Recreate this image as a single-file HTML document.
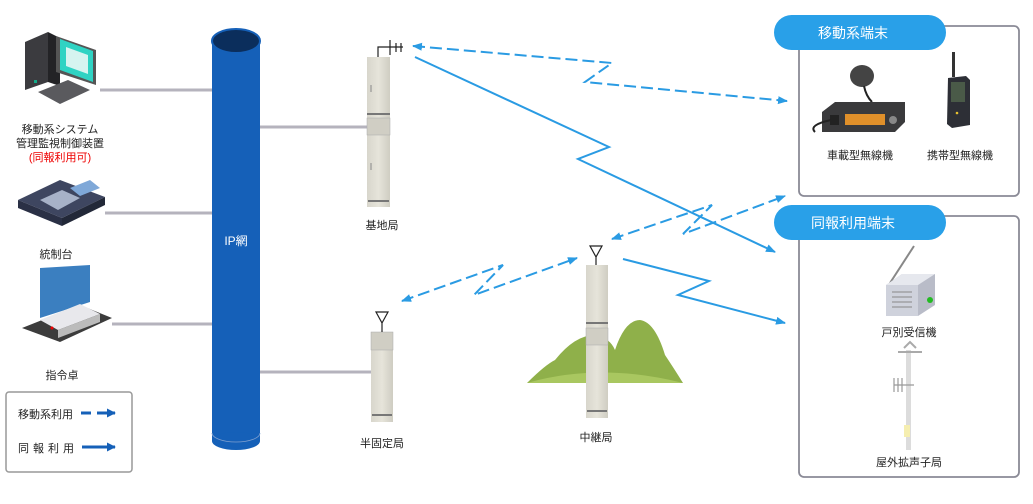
<!DOCTYPE html>
<html><head><meta charset="utf-8"><style>
html,body{margin:0;padding:0;background:#fff;}
svg{display:block;font-family:"Liberation Sans","Noto Sans CJK JP",sans-serif;}
</style></head><body>
<svg width="1033" height="504" viewBox="0 0 1033 504" xmlns="http://www.w3.org/2000/svg">
<defs>
<marker id="ab" viewBox="0 0 10 10" refX="9" refY="5" markerWidth="5" markerHeight="5" orient="auto-start-reverse"><path d="M0,1 L10,5 L0,9 z" fill="#2a9be3"/></marker>
<marker id="al" viewBox="0 0 10 10" refX="9" refY="5" markerWidth="3" markerHeight="3" orient="auto"><path d="M0,0 L10,5 L0,10 z" fill="#1560b8"/></marker>
<linearGradient id="tw" x1="0" x2="1"><stop offset="0" stop-color="#d8d6cc"/><stop offset="0.5" stop-color="#e6e4da"/><stop offset="1" stop-color="#cfcdc2"/></linearGradient>
</defs>

<g stroke="#b5b3bd" stroke-width="3">
<line x1="100" y1="90" x2="212" y2="90"/>
<line x1="105" y1="213" x2="212" y2="213"/>
<line x1="112" y1="324" x2="212" y2="324"/>
<line x1="260" y1="127" x2="368" y2="127"/>
<line x1="260" y1="372" x2="372" y2="372"/>
</g>

<rect x="212" y="41" width="48" height="400" fill="#1560b8"/>
<ellipse cx="236" cy="441" rx="24" ry="9" fill="#1560b8"/>
<path d="M212,441 A24,9 0 0 0 260,441" fill="none" stroke="#7f9fcf" stroke-width="0.8" transform="translate(0,-8)"/>
<ellipse cx="236" cy="41" rx="24" ry="12" fill="#0b2e5c" stroke="#1560b8" stroke-width="2"/>
<text x="236" y="245" fill="#fff" font-size="12" text-anchor="middle">IP網</text>

<g>
<polygon points="25,42 48,32 48,82 25,90" fill="#3b3b3f"/>
<polygon points="48,32 60,38 60,86 48,82" fill="#232326"/>
<polygon points="56,36 96,50 96,85 56,72" fill="#555"/>
<polygon points="60,39 93,51 93,82 60,70" fill="#2fd3c3"/>
<polygon points="66,47 88,55 88,74 66,66" fill="#d6f4f0"/>
<polygon points="38,92 68,80 90,90 60,104" fill="#5a5a5e"/>
<rect x="34" y="80" width="3" height="3" fill="#1a8"/>
</g>
<text x="60" y="133" font-size="11" text-anchor="middle" fill="#222">移動系システム</text>
<text x="60" y="147" font-size="11" text-anchor="middle" fill="#222">管理監視制御装置</text>
<text x="60" y="161" font-size="11" text-anchor="middle" fill="#e00">(同報利用可)</text>

<g>
<polygon points="18,200 60,180 105,197 62,218" fill="#3e4660"/>
<polygon points="18,200 62,218 62,226 18,208" fill="#2a3045"/>
<polygon points="62,218 105,197 105,205 62,226" fill="#222838"/>
<polygon points="70,188 90,180 100,188 80,196" fill="#7fa8d8"/>
<polygon points="40,200 62,190 80,198 58,210" fill="#a7b2c8"/>
</g>
<text x="56" y="258" font-size="11" text-anchor="middle" fill="#222">統制台</text>

<g>
<polygon points="22,328 80,305 112,318 60,342" fill="#3c3c3c"/>
<polygon points="40,268 90,265 90,302 40,318" fill="#3b7fc0"/>
<polygon points="40,320 80,304 100,314 58,330" fill="#e8e8ec"/>
<polygon points="58,330 100,314 100,322 58,338" fill="#bbb"/>
<circle cx="52" cy="328" r="1.5" fill="#e00"/>
</g>
<text x="62" y="379" font-size="11" text-anchor="middle" fill="#222">指令卓</text>

<rect x="6" y="392" width="126" height="80" rx="3" fill="#fff" stroke="#999" stroke-width="1.5"/>
<text x="18" y="418" font-size="11" fill="#222">移動系利用</text>
<line x1="81" y1="413" x2="115" y2="413" stroke="#1560b8" stroke-width="3" stroke-dasharray="10,6" marker-end="url(#al)"/>
<text x="18" y="452" font-size="11" fill="#222" letter-spacing="4">同報利用</text>
<line x1="82" y1="447" x2="115" y2="447" stroke="#1560b8" stroke-width="3" marker-end="url(#al)"/>

<rect x="367" y="57" width="23" height="150" fill="url(#tw)"/>
<rect x="367" y="113" width="23" height="2" fill="#777"/>
<rect x="367" y="118" width="23" height="17" fill="#d0cec4" stroke="#aaa" stroke-width="0.5"/>
<rect x="368" y="200" width="21" height="2" fill="#777"/>
<line x1="371" y1="85" x2="371" y2="92" stroke="#888"/>
<line x1="371" y1="163" x2="371" y2="170" stroke="#888"/>
<path d="M378,57 V47 H392 M390,40 V55 M396,43 V52 M401,43 V52 M390,47 H403" stroke="#222" fill="none" stroke-width="1.2"/>
<text x="382" y="229" font-size="11" text-anchor="middle" fill="#222">基地局</text>

<rect x="371" y="332" width="22" height="90" fill="url(#tw)"/>
<rect x="371" y="332" width="22" height="18" fill="#d0cec4" stroke="#aaa" stroke-width="0.5"/>
<rect x="372" y="414" width="20" height="2" fill="#777"/>
<path d="M376,312 L388,312 L382,323 Z M382,323 V332" stroke="#222" fill="none" stroke-width="1.2"/>
<text x="382" y="447" font-size="11" text-anchor="middle" fill="#222">半固定局</text>

<path d="M527,383 Q545,365 555,360 Q575,335 595,335 Q610,338 615,350 Q625,320 640,320 Q655,322 665,355 Q675,370 683,383 Z" fill="#8fb04a"/>
<path d="M527,383 Q600,362 683,383 Z" fill="#a9c760"/>
<rect x="586" y="265" width="22" height="153" fill="url(#tw)"/>
<rect x="586" y="322" width="22" height="2" fill="#777"/>
<rect x="586" y="328" width="22" height="17" fill="#d0cec4" stroke="#aaa" stroke-width="0.5"/>
<rect x="587" y="410" width="20" height="2" fill="#777"/>
<path d="M590,246 L602,246 L596,257 Z M596,257 V265" stroke="#222" fill="none" stroke-width="1.2"/>
<text x="596" y="441" font-size="11" text-anchor="middle" fill="#222">中継局</text>

<g fill="none" stroke="#2a9be3" stroke-width="2">
<polyline points="413,46 612,63 585,82 787,101" stroke-dasharray="12,5" marker-start="url(#ab)" marker-end="url(#ab)"/>
<polyline points="415,57 609,147 578,159 775,252" marker-end="url(#ab)"/>
<polyline points="612,239 712,205 683,234 785,196" stroke-dasharray="12,5" marker-start="url(#ab)" marker-end="url(#ab)"/>
<polyline points="402,301 503,265 474,295 577,258" stroke-dasharray="12,5" marker-start="url(#ab)" marker-end="url(#ab)"/>
<polyline points="623,259 709,281 678,295 785,323" marker-end="url(#ab)"/>
</g>

<rect x="799" y="26" width="220" height="170" rx="5" fill="#fff" stroke="#8a8a96" stroke-width="1.8"/>
<rect x="774" y="15" width="172" height="35" rx="17.5" fill="#29a0e8"/>
<text x="853" y="38" font-size="14" fill="#fff" text-anchor="middle">移動系端末</text>
<rect x="799" y="216" width="220" height="261" rx="5" fill="#fff" stroke="#8a8a96" stroke-width="1.8"/>
<rect x="774" y="205" width="172" height="35" rx="17.5" fill="#29a0e8"/>
<text x="853" y="228" font-size="14" fill="#fff" text-anchor="middle">同報利用端末</text>

<g>
<ellipse cx="862" cy="76" rx="12" ry="11" fill="#444"/>
<path d="M864,86 Q866,96 872,102" stroke="#222" stroke-width="2" fill="none"/>
<polygon points="822,112 835,102 905,102 905,122 895,132 822,132" fill="#3a3a3c"/>
<rect x="845" y="114" width="40" height="11" fill="#e0902a"/>
<rect x="830" y="115" width="9" height="10" fill="#222"/>
<circle cx="893" cy="120" r="4" fill="#888"/>
<path d="M831,120 Q808,125 815,132" stroke="#222" stroke-width="2" fill="none"/>
</g>
<text x="860" y="159" font-size="11" text-anchor="middle" fill="#222">車載型無線機</text>
<g>
<rect x="952" y="52" width="3" height="25" fill="#333"/>
<polygon points="948,78 966,76 970,80 970,125 952,128 947,124" fill="#2d2f36"/>
<rect x="951" y="82" width="14" height="20" fill="#4a5a48"/>
<circle cx="957" cy="113" r="1.3" fill="#e6c030"/>
</g>
<text x="960" y="159" font-size="11" text-anchor="middle" fill="#222">携帯型無線機</text>

<g>
<line x1="890" y1="283" x2="914" y2="246" stroke="#888" stroke-width="2"/>
<polygon points="886,285 902,274 935,274 935,305 918,316 886,316" fill="#b9bcc8"/>
<polygon points="886,285 918,285 918,316 886,316" fill="#cfd2dc"/>
<polygon points="886,285 902,274 935,274 918,285" fill="#e6e8ee"/>
<g stroke="#888"><line x1="892" y1="292" x2="912" y2="292"/><line x1="892" y1="297" x2="912" y2="297"/><line x1="892" y1="302" x2="912" y2="302"/><line x1="892" y1="307" x2="912" y2="307"/></g>
<circle cx="930" cy="300" r="3" fill="#2b2"/>
</g>
<text x="909" y="336" font-size="11" text-anchor="middle" fill="#222">戸別受信機</text>
<g>
<rect x="906" y="350" width="5" height="100" fill="#dcdcdc"/>
<path d="M898,352 H922 M904,348 L910,342 L916,348" stroke="#aaa" stroke-width="2" fill="none"/>
<path d="M894,378 V392 M898,378 V392 M902,378 V392 M894,385 H914" stroke="#999" stroke-width="1.2"/>
<rect x="904" y="425" width="6" height="12" fill="#f5eeb0"/>
</g>
<text x="909" y="466" font-size="11" text-anchor="middle" fill="#222">屋外拡声子局</text>
</svg>
</body></html>
